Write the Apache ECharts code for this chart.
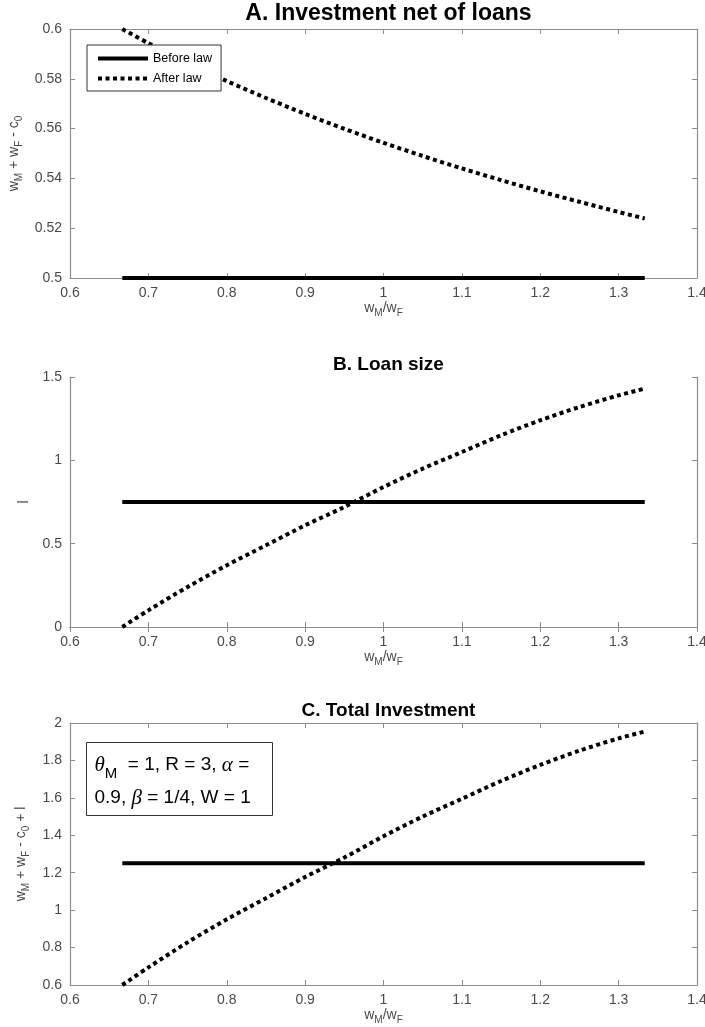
<!DOCTYPE html>
<html><head><meta charset="utf-8">
<script src="https://cdn.jsdelivr.net/npm/echarts@6/dist/echarts.min.js"></script>
<style>html,body{margin:0;padding:0;background:#fff}#c{width:705px;height:1027px}</style>
</head><body><div id="c"></div>
<script>
// ---- data ----
const xAfter  = [0.6667, 0.7, 0.75, 0.8, 0.85, 0.9, 0.95, 1.0, 1.05, 1.1, 1.15, 1.2, 1.25, 1.3, 1.3333];
const afterA  = [0.600, 0.5943, 0.5864, 0.5791, 0.5723, 0.5659, 0.5599, 0.5543, 0.5490, 0.5440, 0.5393, 0.5348, 0.5306, 0.5265, 0.5239];
const afterB  = [0.00, 0.10, 0.24, 0.37, 0.49, 0.61, 0.72, 0.84, 0.95, 1.05, 1.15, 1.24, 1.32, 1.39, 1.43];
const afterC  = [0.600, 0.694, 0.828, 0.951, 1.064, 1.177, 1.281, 1.395, 1.500, 1.595, 1.690, 1.776, 1.852, 1.918, 1.954];
const xBefore = [0.6667, 1.3333];
const beforeA = [0.5, 0.5];
const beforeB = [0.75, 0.75];
const beforeC = [1.25, 1.25];
const titles  = ['A. Investment net of loans', 'B. Loan size', 'C. Total Investment'];
const yNames  = ['w{s|M} + w{s|F} - c{s|0}', 'l', 'w{s|M} + w{s|F} - c{s|0} + l'];
const xName   = 'w{s|M}/w{s|F}';
const xRange  = [0.6, 1.4, 0.1];
const yRanges = [[0.5, 0.6, 0.02], [0, 1.5, 0.5], [0.6, 2, 0.2]];
const seriesNames = ['Before law', 'After law'];

// ---- layout ----
const FONT = "'Liberation Sans', Arial, Helvetica, sans-serif";
const grids = [
  {left: 70, right: 8, top: 29, height: 249, outerBoundsMode: 'none'},
  {left: 70, right: 8, top: 377, height: 250, outerBoundsMode: 'none'},
  {left: 70, right: 8, top: 723, height: 262, outerBoundsMode: 'none'}
];
const titleTops = [-3, 350, 696];
const titleSizes = [23, 19, 19];
const AX = '#8c8c8c', LB = '#4a4a4a';
const rich = {
  n: {fontSize: 14, lineHeight: 20, color: LB, fontFamily: FONT},
  s: {fontSize: 10, lineHeight: 7, verticalAlign: 'bottom', color: LB, fontFamily: FONT}
};
function pairs(xs, ys) { return xs.map((x, i) => [x, ys[i]]); }
function nameRich(str) {
  return str.split(/(\{s\|[^}]*\})/).filter(Boolean).map(t => t.startsWith('{s|') ? t : '{n|' + t + '}').join('');
}

const xAxis = [], yAxis = [], series = [], title = [];
const befores = [beforeA, beforeB, beforeC], afters = [afterA, afterB, afterC];
grids.forEach((g, i) => {
  title.push({
    text: titles[i], left: 70 + 627 / 2, textAlign: 'center', top: titleTops[i],
    textStyle: {fontFamily: FONT, fontWeight: 'bold', fontSize: titleSizes[i], color: '#000'}
  });
  const common = {
    type: 'value', gridIndex: i, min: xRange[0], max: xRange[1], interval: xRange[2],
    axisLine: {show: true, lineStyle: {color: AX, width: 1.2}},
    axisTick: {show: true, inside: true, length: 5, lineStyle: {color: AX}},
    splitLine: {show: false}
  };
  xAxis.push(Object.assign({}, common, {
    position: 'bottom',
    axisLabel: {color: LB, fontSize: 14, fontFamily: FONT, margin: 8},
    name: nameRich(xName), nameLocation: 'middle', nameGap: 15,
    nameTextStyle: {rich}
  }));
  xAxis.push(Object.assign({}, common, {position: 'top', axisLabel: {show: false}}));
  const yr = yRanges[i];
  const ycommon = {
    type: 'value', gridIndex: i, min: yr[0], max: yr[1], interval: yr[2],
    axisLine: {show: true, lineStyle: {color: AX, width: 1.2}},
    axisTick: {show: true, inside: true, length: 5, lineStyle: {color: AX}},
    splitLine: {show: false}
  };
  yAxis.push(Object.assign({}, ycommon, {
    position: 'left',
    axisLabel: {color: LB, fontSize: 14, fontFamily: FONT, margin: 8},
    name: nameRich(yNames[i]), nameLocation: 'middle', nameGap: 36, nameRotate: 90,
    nameTextStyle: {rich}
  }));
  yAxis.push(Object.assign({}, ycommon, {position: 'right', axisLabel: {show: false}}));
  series.push({
    name: seriesNames[0], type: 'line', xAxisIndex: 2 * i, yAxisIndex: 2 * i,
    data: pairs(xBefore, befores[i]), symbol: 'none', silent: true,
    itemStyle: {color: '#000'},
    lineStyle: {color: '#000', width: 4, cap: 'butt'}, z: 3
  });
  series.push({
    name: seriesNames[1], type: 'line', xAxisIndex: 2 * i, yAxisIndex: 2 * i,
    data: pairs(xAfter, afters[i]), symbol: 'none', smooth: 0.3, silent: true,
    itemStyle: {color: '#000'},
    lineStyle: {color: '#000', width: 4, type: [4, 3.5], cap: 'butt'}, z: 3
  });
});

const chart = echarts.init(document.getElementById('c'), null, {renderer: 'canvas'});
chart.setOption({
  backgroundColor: '#fff',
  animation: false,
  title,
  grid: grids,
  xAxis, yAxis, series,
  legend: {
    data: seriesNames, orient: 'vertical', left: 87, top: 45,
    itemWidth: 50, itemHeight: 12, itemGap: 7,
    padding: [7, 9, 6, 9],
    backgroundColor: '#fff', borderColor: '#333', borderWidth: 1,
    textStyle: {fontSize: 12.5, fontFamily: FONT, color: '#000'},
    itemStyle: {color: 'rgba(0,0,0,0)', borderWidth: 0, opacity: 0},
    lineStyle: {width: 4},
    selectedMode: false
  },
  graphic: [{
    type: 'group', left: 86, top: 742, z: 100,
    children: [
      {type: 'rect', shape: {x: 0, y: 0, width: 186, height: 73},
       style: {fill: '#fff', stroke: '#333', lineWidth: 1}},
      {type: 'text', x: 8, y: 6,
       style: {
         text: '{g|θ}{sb|M}{t|  = 1, R = 3, }{g|α}{t| =}\n{t|0.9, }{g|β}{t| = 1/4, W = 1}',
         rich: {
           t: {fontSize: 19, fontFamily: FONT, color: '#000', lineHeight: 33},
           g: {fontSize: 21, fontFamily: "'Liberation Serif', 'DejaVu Serif', serif", fontStyle: 'italic', color: '#000', lineHeight: 33},
           sb: {fontSize: 15, fontFamily: FONT, color: '#000', lineHeight: 14, verticalAlign: 'bottom'}
         }
       }}
    ]
  }]
});
</script></body></html>
